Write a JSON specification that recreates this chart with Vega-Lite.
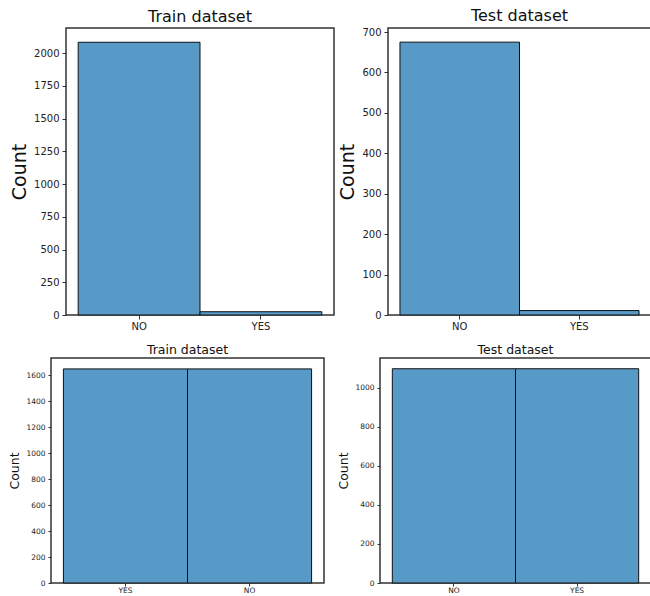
{
  "$schema": "https://vega.github.io/schema/vega-lite/v6.json",
  "padding": {"left": 8, "top": 7, "right": 0, "bottom": 0},
  "config": {
    "font": "DejaVu Sans",
    "view": {"stroke": "#333333", "strokeWidth": 1.5},
    "axis": {"grid": false, "domain": false, "tickColor": "#333333", "labelColor": "#222222", "titleColor": "#111111", "titleFontWeight": "normal", "labelFont": "DejaVu Sans", "titleFont": "DejaVu Sans"},
    "title": {"fontWeight": "normal", "color": "#111111", "font": "DejaVu Sans"}
  },
  "datasets": {
    "train_imb": [{"label": "NO", "count": 2084}, {"label": "YES", "count": 25}],
    "test_imb": [{"label": "NO", "count": 675}, {"label": "YES", "count": 11}],
    "train_bal": [{"label": "YES", "count": 1649}, {"label": "NO", "count": 1649}],
    "test_bal": [{"label": "NO", "count": 1097}, {"label": "YES", "count": 1097}],
    "empty": []
  },
  "spacing": 10,
  "vconcat": [
    {
      "bounds": "flush",
      "spacing": 14,
      "hconcat": [
        {
          "width": 1, "height": 1,
          "view": {"stroke": null},
          "data": {"name": "empty"},
          "mark": {"type": "point", "opacity": 0},
          "encoding": {}
        },
        {
          "bounds": "flush",
          "spacing": 54,
          "hconcat": [
            {
              "width": 268, "height": 287,
              "title": {"text": "Train dataset", "fontSize": 16, "offset": 3},
              "data": {"name": "train_imb"},
              "mark": {"type": "bar", "fill": "#5799c7", "stroke": "#111111", "strokeWidth": 1},
              "encoding": {
                "x": {"field": "label", "type": "nominal", "sort": ["NO", "YES"], "scale": {"paddingInner": 0, "paddingOuter": 0.1}, "axis": {"title": null, "labelAngle": 0, "labelFontSize": 10, "tickSize": 4, "labelPadding": 2}},
                "y": {"field": "count", "type": "quantitative", "scale": {"domain": [0, 2193], "nice": false}, "axis": {"title": "Count", "format": "d", "values": [0, 250, 500, 750, 1000, 1250, 1500, 1750, 2000], "labelFontSize": 10, "titleFontSize": 19, "tickSize": 4, "labelPadding": 3, "titlePadding": 4}}
              }
            },
            {
              "width": 263, "height": 287,
              "title": {"text": "Test dataset", "fontSize": 16, "offset": 3},
              "data": {"name": "test_imb"},
              "mark": {"type": "bar", "fill": "#5799c7", "stroke": "#111111", "strokeWidth": 1},
              "encoding": {
                "x": {"field": "label", "type": "nominal", "sort": ["NO", "YES"], "scale": {"paddingInner": 0, "paddingOuter": 0.1}, "axis": {"title": null, "labelAngle": 0, "labelFontSize": 10, "tickSize": 4, "labelPadding": 2}},
                "y": {"field": "count", "type": "quantitative", "scale": {"domain": [0, 710], "nice": false}, "axis": {"title": "Count", "format": "d", "values": [0, 100, 200, 300, 400, 500, 600, 700], "labelFontSize": 10, "titleFontSize": 19, "tickSize": 4, "labelPadding": 3, "titlePadding": 4}}
              }
            }
          ]
        }
      ]
    },
    {
      "bounds": "flush",
      "spacing": 56,
      "hconcat": [
        {
          "width": 273, "height": 225,
          "title": {"text": "Train dataset", "fontSize": 12.5, "offset": 2},
          "data": {"name": "train_bal"},
          "mark": {"type": "bar", "fill": "#5799c7", "stroke": "#111111", "strokeWidth": 1},
          "encoding": {
            "x": {"field": "label", "type": "nominal", "sort": ["YES", "NO"], "scale": {"paddingInner": 0, "paddingOuter": 0.1}, "axis": {"title": null, "labelAngle": 0, "labelFontSize": 7.5, "tickSize": 3, "labelPadding": 0}},
            "y": {"field": "count", "type": "quantitative", "scale": {"domain": [0, 1733], "nice": false}, "axis": {"title": "Count", "format": "d", "values": [0, 200, 400, 600, 800, 1000, 1200, 1400, 1600], "labelFontSize": 7.5, "titleFontSize": 12.5, "tickSize": 3, "labelPadding": 3, "titlePadding": 4}}
          }
        },
        {
          "width": 271, "height": 225,
          "title": {"text": "Test dataset", "fontSize": 12.5, "offset": 2},
          "data": {"name": "test_bal"},
          "mark": {"type": "bar", "fill": "#5799c7", "stroke": "#111111", "strokeWidth": 1},
          "encoding": {
            "x": {"field": "label", "type": "nominal", "sort": ["NO", "YES"], "scale": {"paddingInner": 0, "paddingOuter": 0.1}, "axis": {"title": null, "labelAngle": 0, "labelFontSize": 7.5, "tickSize": 3, "labelPadding": 0}},
            "y": {"field": "count", "type": "quantitative", "scale": {"domain": [0, 1152], "nice": false}, "axis": {"title": "Count", "format": "d", "values": [0, 200, 400, 600, 800, 1000], "labelFontSize": 7.5, "titleFontSize": 12.5, "tickSize": 3, "labelPadding": 3, "titlePadding": 4}}
          }
        }
      ]
    }
  ]
}
